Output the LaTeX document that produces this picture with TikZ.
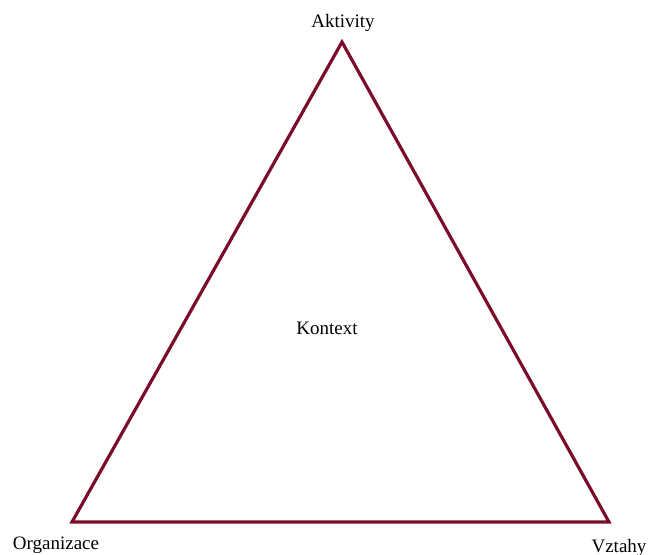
\documentclass[tikz,border=0pt]{standalone}
\usepackage{fontspec}
\setmainfont{Liberation Serif}
\usetikzlibrary{positioning}
\definecolor{edge}{RGB}{122,14,42}

\begin{document}
\begin{tikzpicture}[x=0.5pt, y=-0.5pt,
  lbl/.style={font=\fontsize{9.5}{11}\selectfont, inner sep=0pt, anchor=base},
  side/.style={draw=edge, line width=1.6pt, line join=miter}
]
  \useasboundingbox (0,0) rectangle (648,554);
  % corners of the triangle
  \coordinate (top) at (342,42);
  \coordinate (left) at (72,522);
  \coordinate (right) at (609,522);
  \draw[side] (top) -- (right) -- (left) -- cycle;
  % labels
  \foreach \name/\pos/\txt in {akt/{343,27}/Aktivity, org/{56,549}/Organizace,
                               vzt/{619,552}/Vztahy, kon/{327,334}/Kontext}{
     \node[lbl] (\name) at (\pos) {\txt};}
\end{tikzpicture}
\end{document}
